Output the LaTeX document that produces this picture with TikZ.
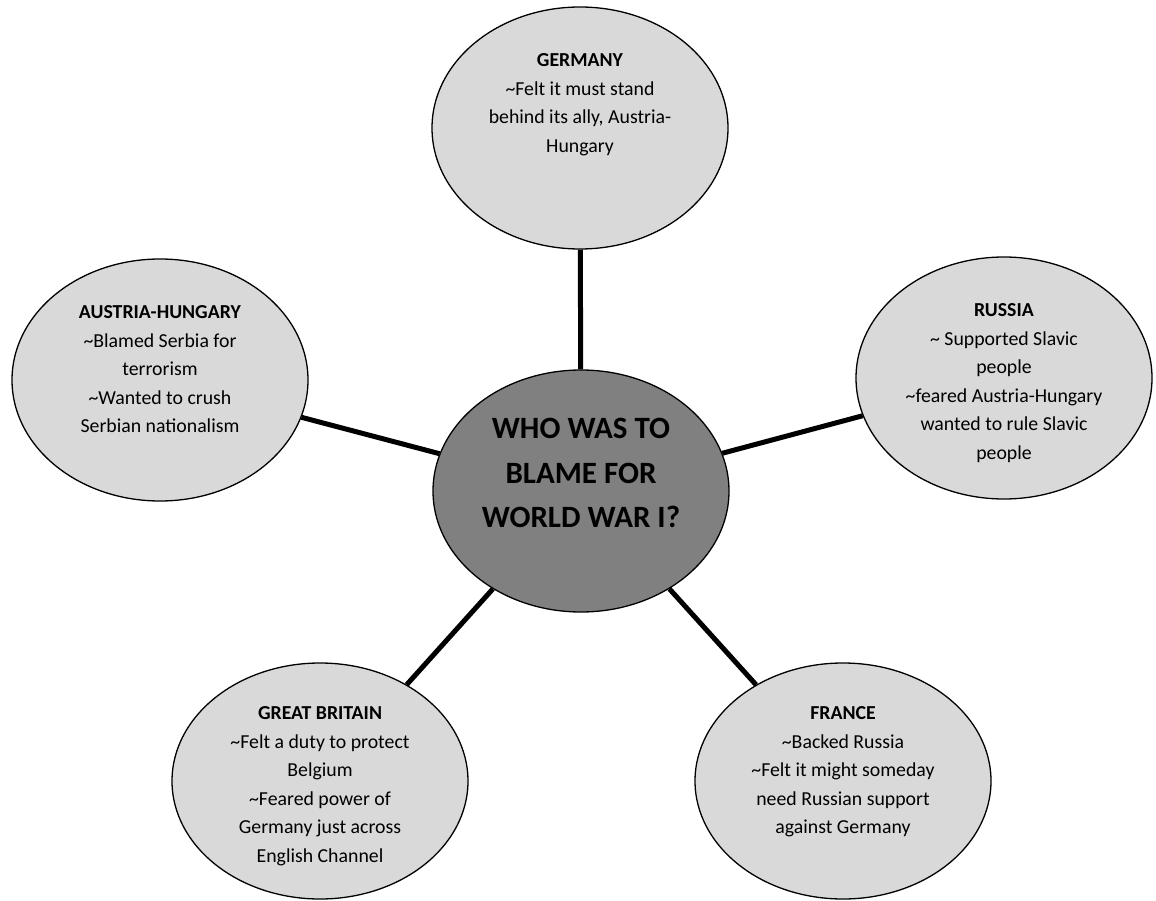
\documentclass[tikz,border=0pt]{standalone}
\usepackage{fontspec}
\setmainfont{Carlito}
\usetikzlibrary{shapes.geometric,backgrounds}
\definecolor{lightfill}{HTML}{D9D9D9}
\definecolor{darkfill}{HTML}{808080}
\tikzset{
  bubble/.style={ellipse, draw=black, line width=1.3pt, fill=lightfill, minimum width=296pt, minimum height=242pt, inner sep=0pt},
  hub/.style={bubble, fill=darkfill},
  bubbletext/.style={anchor=north, align=center, inner sep=0pt, text=black, font=\fontsize{19.8}{28.5}\selectfont},
  hubtext/.style={anchor=north, align=center, inner sep=0pt, text=black, font=\bfseries\fontsize{31}{44.5}\selectfont},
  link/.style={line width=5pt, draw=black}
}
\begin{document}
\begin{tikzpicture}[x=1pt,y=-1pt]
\useasboundingbox (0,0) rectangle (1156,901);
% ellipses
\node[hub] (c) at (581,491) {};
\node[bubble] (g) at (580,128) {};
\node[bubble] (a) at (160,380) {};
\node[bubble] (r) at (1004,378) {};
\node[bubble, minimum height=236pt] (b) at (320,781) {};
\node[bubble, minimum height=236pt] (f) at (843,781) {};
% connectors
\begin{scope}[on background layer]
\draw[link] (c) -- (g);
\draw[link] (c) -- (a);
\draw[link] (c) -- (r);
\draw[link] (c) -- (b);
\draw[link] (c) -- (f);
\end{scope}
% texts
\node[hubtext] (ct) at (581,418) {WHO WAS TO\\BLAME FOR\\WORLD WAR I?};
\node[bubbletext] (gt) at (580,53.6) {\textbf{GERMANY}\\\textasciitilde Felt it must stand\\behind its ally, Austria-\\Hungary};
\node[bubbletext] (at) at (160,305.6) {\textbf{AUSTRIA-HUNGARY}\\\textasciitilde Blamed Serbia for\\terrorism\\\textasciitilde Wanted to crush\\Serbian nationalism};
\node[bubbletext] (rt) at (1004,303.6) {\textbf{RUSSIA}\\\textasciitilde{} Supported Slavic\\people\\\textasciitilde feared Austria-Hungary\\wanted to rule Slavic\\people};
\node[bubbletext] (bt) at (320,706.6) {\textbf{GREAT BRITAIN}\\\textasciitilde Felt a duty to protect\\Belgium\\\textasciitilde Feared power of\\Germany just across\\English Channel};
\node[bubbletext] (ft) at (843,706.6) {\textbf{FRANCE}\\\textasciitilde Backed Russia\\\textasciitilde Felt it might someday\\need Russian support\\against Germany};
\end{tikzpicture}
\end{document}
